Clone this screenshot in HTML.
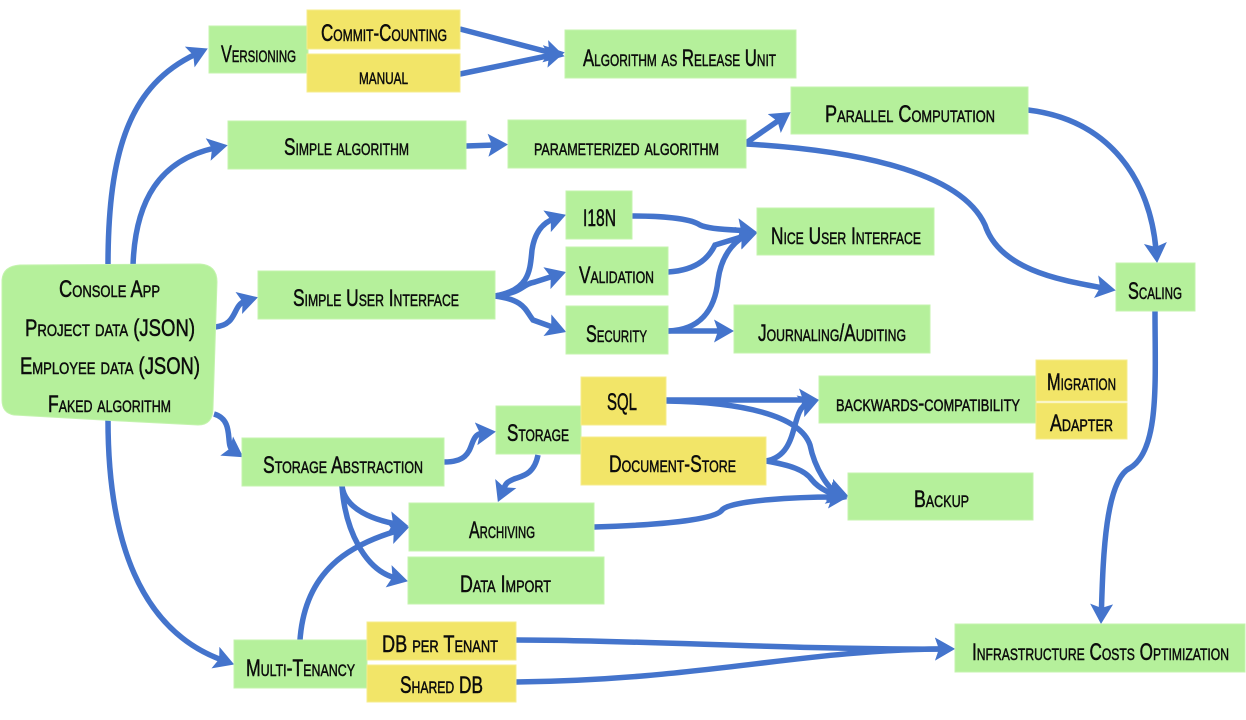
<!DOCTYPE html>
<html><head><meta charset="utf-8"><style>
html,body{margin:0;padding:0;background:#fff;width:1246px;height:720px;overflow:hidden}
svg{display:block}
text{font-family:"Liberation Sans Narrow","Liberation Sans",sans-serif;font-variant:small-caps;font-size:24px;fill:#0c0c0c;stroke:#0c0c0c;stroke-width:.5px}
.g{fill:#b5f09b;stroke:#c4f3ae;stroke-width:1}
.y{fill:#f2e568;stroke:#f6ec8c;stroke-width:1}
.c{fill:none;stroke:#4474cc;stroke-width:5.5;marker-end:url(#a)}
</style></head><body>
<svg width="1246" height="720" viewBox="0 0 1246 720" xmlns="http://www.w3.org/2000/svg">
<defs><marker id="a" markerUnits="userSpaceOnUse" markerWidth="22" markerHeight="24" refX="7" refY="11.5" orient="auto"><path d="M0,0 L20,11.5 L0,23 L4,11.5 Z" fill="#4474cc"/></marker></defs>

<!-- connectors -->
<path class="c" d="M108,266 C108,150 130,85 196,54"/>
<path class="c" d="M133,266 C135,200 160,160 215,148"/>
<path class="c" d="M215,327 C238,325 232,305 245.5,301"/>
<path class="c" d="M214,414 C235,420 225,445 232.5,450"/>
<path class="c" d="M108,420 C108,540 140,630 222,660"/>
<path class="c" d="M460,29 L552,53"/>
<path class="c" d="M460,74 L552,55"/>
<path class="c" d="M466,146 L495,145"/>
<path class="c" d="M746,143 L780,119.5"/>
<path class="c" d="M746,144 C850,150 960,170 985,225 C1000,270 1060,280 1103,288"/>
<path class="c" d="M1028,110 C1110,120 1150,180 1156,250"/>
<path class="c" d="M1155,311 C1155,380 1160,450 1130,468 C1105,480 1103,560 1101.4,611"/>
<path class="c" d="M495,296 C530,290 530,270 532,250 C535,230 545,222 553.7,219"/>
<path class="c" d="M495,296 C525,292 520,285 535,282 L553.6,276"/>
<path class="c" d="M495,296 C525,300 525,310 533,320 L554,327.6"/>
<path class="c" d="M632,216 C660,216 690,218 700,225 C710,230 740,230 744,230.5"/>
<path class="c" d="M668,272 C700,270 710,255 715,245 L744.6,236"/>
<path class="c" d="M668,331 C700,330 715,310 718,280 C722,250 740,238 745,236.5"/>
<path class="c" d="M668,331 L721,331"/>
<path class="c" d="M666,400 L806,400"/>
<path class="c" d="M666,401 C740,402 800,415 810,445 C815,470 830,490 836,492"/>
<path class="c" d="M766,461 C800,455 790,410 807,404"/>
<path class="c" d="M766,461 C790,465 805,470 812,480 C820,490 835,495 835,495"/>
<path class="c" d="M594,527 C660,525 715,520 722,510 C730,500 800,497 835,497"/>
<path class="c" d="M538,455 C534,475 522,476 514,479 C507,482 506,483 503,490"/>
<path class="c" d="M444,462 C480,462 465,435 483,433"/>
<path class="c" d="M342,486 C345,510 375,520 396,524"/>
<path class="c" d="M342,486 C345,530 365,570 395.4,578"/>
<path class="c" d="M300,640 C305,570 350,545 396.6,531"/>
<path class="c" d="M516,640 C640,640 800,650 942,649"/>
<path class="c" d="M516,682 C700,680 800,650 942,649"/>

<!-- console node -->
<path class="g" d="M20,265 L200,264 Q217,265 217,282 L213,408 Q213,425 198,425 L120,421 L14,415 Q2,413 2,400 L2,280 Q3,266 20,265 Z"/>

<!-- boxes -->
<rect class="g" x="209" y="26" width="99" height="47"/>
<rect class="y" x="307" y="10" width="153" height="39"/>
<rect class="y" x="307" y="54" width="153" height="38"/>
<rect class="g" x="565" y="30" width="231" height="48"/>
<rect class="g" x="228" y="121" width="238" height="48"/>
<rect class="g" x="508" y="120" width="238" height="48"/>
<rect class="g" x="791" y="87" width="237" height="47"/>
<rect class="g" x="566" y="191" width="66" height="48"/>
<rect class="g" x="566" y="247" width="102" height="48"/>
<rect class="g" x="566" y="306" width="102" height="48"/>
<rect class="g" x="757" y="208" width="177" height="47"/>
<rect class="g" x="734" y="305" width="196" height="48"/>
<rect class="g" x="258" y="271" width="237" height="48"/>
<rect class="g" x="1116" y="263" width="79" height="48"/>
<rect class="g" x="496" y="406" width="85" height="48"/>
<rect class="y" x="581" y="377" width="85" height="48"/>
<rect class="y" x="581" y="437" width="185" height="48"/>
<rect class="g" x="242" y="438" width="202" height="48"/>
<rect class="g" x="819" y="376" width="217" height="47"/>
<rect class="y" x="1036" y="360" width="91" height="41"/>
<rect class="y" x="1036" y="403" width="91" height="36"/>
<rect class="g" x="848" y="473" width="185" height="47"/>
<rect class="g" x="409" y="503" width="185" height="48"/>
<rect class="g" x="408" y="557" width="196" height="47"/>
<rect class="g" x="234" y="640" width="133" height="48"/>
<rect class="y" x="367" y="622" width="149" height="38"/>
<rect class="y" x="367" y="665" width="149" height="37"/>
<rect class="g" x="955" y="624" width="290" height="48"/>

<!-- labels -->
<g>
<text x="221" y="62" textLength="75" lengthAdjust="spacingAndGlyphs">Versioning</text>
<text x="321" y="41" textLength="126" lengthAdjust="spacingAndGlyphs">Commit-Counting</text>
<text x="359" y="84" textLength="49" lengthAdjust="spacingAndGlyphs">manual</text>
<text x="583" y="66" textLength="193" lengthAdjust="spacingAndGlyphs">Algorithm as Release Unit</text>
<text x="284" y="155" textLength="125" lengthAdjust="spacingAndGlyphs">Simple algorithm</text>
<text x="534" y="155" textLength="185" lengthAdjust="spacingAndGlyphs">parameterized algorithm</text>
<text x="825" y="122" textLength="170" lengthAdjust="spacingAndGlyphs">Parallel Computation</text>
<text x="583" y="226" textLength="33" lengthAdjust="spacingAndGlyphs">I18N</text>
<text x="579" y="283" textLength="75" lengthAdjust="spacingAndGlyphs">Validation</text>
<text x="586" y="342" textLength="61" lengthAdjust="spacingAndGlyphs">Security</text>
<text x="771" y="244" textLength="150" lengthAdjust="spacingAndGlyphs">Nice User Interface</text>
<text x="758" y="341" textLength="148" lengthAdjust="spacingAndGlyphs">Journaling/Auditing</text>
<text x="293" y="306" textLength="166" lengthAdjust="spacingAndGlyphs">Simple User Interface</text>
<text x="1128" y="299" textLength="54" lengthAdjust="spacingAndGlyphs">Scaling</text>
<text x="59" y="297" textLength="101" lengthAdjust="spacingAndGlyphs">Console App</text>
<text x="25" y="336" textLength="170" lengthAdjust="spacingAndGlyphs">Project data (JSON)</text>
<text x="20" y="374" textLength="180" lengthAdjust="spacingAndGlyphs">Employee data (JSON)</text>
<text x="48" y="412" textLength="123" lengthAdjust="spacingAndGlyphs">Faked algorithm</text>
<text x="607" y="410" textLength="30" lengthAdjust="spacingAndGlyphs">SQL</text>
<text x="609" y="472" textLength="127" lengthAdjust="spacingAndGlyphs">Document-Store</text>
<text x="507" y="441" textLength="62" lengthAdjust="spacingAndGlyphs">Storage</text>
<text x="263" y="473" textLength="160" lengthAdjust="spacingAndGlyphs">Storage Abstraction</text>
<text x="836" y="411" textLength="184" lengthAdjust="spacingAndGlyphs">backwards-compatibility</text>
<text x="1047" y="390" textLength="69" lengthAdjust="spacingAndGlyphs">Migration</text>
<text x="1050" y="431" textLength="63" lengthAdjust="spacingAndGlyphs">Adapter</text>
<text x="914" y="507" textLength="55" lengthAdjust="spacingAndGlyphs">Backup</text>
<text x="469" y="538" textLength="66" lengthAdjust="spacingAndGlyphs">Archiving</text>
<text x="460" y="592" textLength="91" lengthAdjust="spacingAndGlyphs">Data Import</text>
<text x="246" y="676" textLength="109" lengthAdjust="spacingAndGlyphs">Multi-Tenancy</text>
<text x="382" y="652" textLength="116" lengthAdjust="spacingAndGlyphs">DB per Tenant</text>
<text x="400" y="693" textLength="83" lengthAdjust="spacingAndGlyphs">Shared DB</text>
<text x="972" y="660" textLength="257" lengthAdjust="spacingAndGlyphs">Infrastructure Costs Optimization</text>
</g>
</svg>
</body></html>
